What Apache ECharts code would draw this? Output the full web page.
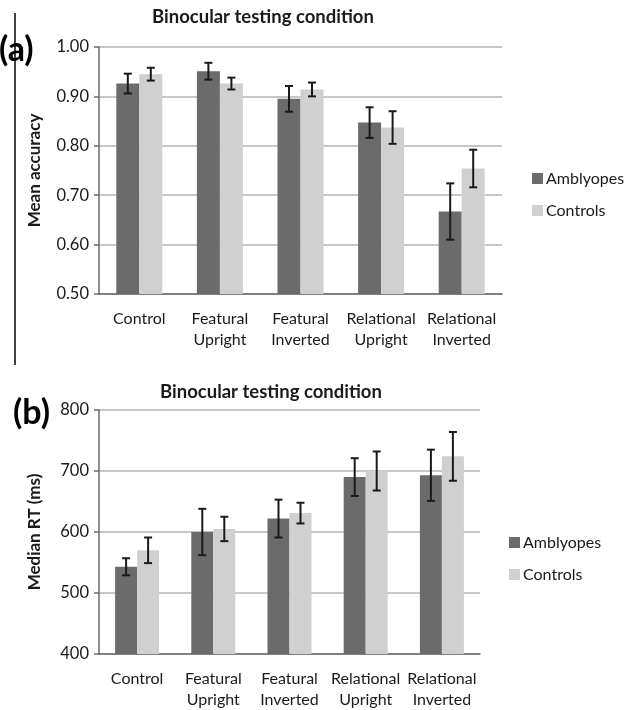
<!DOCTYPE html>
<html>
<head>
<meta charset="utf-8">
<script src="https://cdn.jsdelivr.net/npm/echarts@6/dist/echarts.min.js"></script>
<style>
  html, body { margin: 0; padding: 0; background: #fff; }
  #chart { width: 643px; height: 710px; }
</style>
</head>
<body>
<div id="chart"></div>
<script>
var categories = ['Control', 'Featural\nUpright', 'Featural\nInverted', 'Relational\nUpright', 'Relational\nInverted']

// panel (a) mean accuracy
var accAmb = [0.926, 0.951, 0.895, 0.847, 0.667]
var accAmbErr = [0.020, 0.017, 0.026, 0.031, 0.057]
var accCtl = [0.945, 0.926, 0.914, 0.837, 0.754]
var accCtlErr = [0.013, 0.012, 0.014, 0.033, 0.038]

// panel (b) median RT
var rtAmb = [543, 600, 622, 690, 693]
var rtAmbErr = [14, 38, 31, 31, 42]
var rtCtl = [570, 605, 631, 700, 724]
var rtCtlErr = [21, 20, 17, 32, 40]

var FONT = 'Lato, sans-serif'
var DARK = '#6b6b6b'
var LIGHT = '#d0d0d0'

function errData(vals, errs) {
  return vals.map(function(v, i) { return [i, v - errs[i], v + errs[i]] })
}

function errSeries(xi, yi, vals, errs, offset) {
  return {
    type: 'custom',
    xAxisIndex: xi,
    yAxisIndex: yi,
    silent: true,
    z: 10,
    data: errData(vals, errs),
    renderItem: function(params, api) {
      var lo = api.coord([api.value(0), api.value(1)])
      var hi = api.coord([api.value(0), api.value(2)])
      var x = lo[0] + offset
      var cap = 4
      var st = { stroke: '#1a1a1a', lineWidth: 2 }
      return {
        type: 'group',
        children: [
          { type: 'line', shape: { x1: x, y1: lo[1], x2: x, y2: hi[1] }, style: st },
          { type: 'line', shape: { x1: x - cap, y1: lo[1], x2: x + cap, y2: lo[1] }, style: st },
          { type: 'line', shape: { x1: x - cap, y1: hi[1], x2: x + cap, y2: hi[1] }, style: st }
        ]
      }
    }
  }
}

function xAxisCfg(gi) {
  return {
    type: 'category',
    gridIndex: gi,
    data: categories,
    axisLine: { lineStyle: { color: '#6a6a6a', width: 1.5 } },
    axisTick: { length: 5, lineStyle: { color: '#6a6a6a', width: 1.5 } },
    axisLabel: { color: '#1a1a1a', fontSize: 16, fontFamily: FONT, lineHeight: 21, margin: 14, interval: 0 }
  }
}

function yAxisCfg(gi, min, max, interval, name, fmt) {
  return {
    type: 'value',
    gridIndex: gi,
    min: min,
    max: max,
    interval: interval,
    name: name,
    nameLocation: 'middle',
    nameGap: 56,
    nameTextStyle: { color: '#1a1a1a', fontSize: 17, fontWeight: 'bold', fontFamily: FONT },
    axisLine: { show: true, lineStyle: { color: '#6a6a6a', width: 1.5 } },
    axisTick: { show: true, length: 5, lineStyle: { color: '#6a6a6a', width: 1.5 } },
    axisLabel: { color: '#1a1a1a', fontSize: 16.5, fontFamily: FONT, margin: 10, formatter: fmt },
    splitLine: { lineStyle: { color: '#b4b4b4', width: 1.5 } }
  }
}

function legendCfg(left, top) {
  return {
    orient: 'vertical', left: left, top: top, padding: 0, itemGap: 13, itemWidth: 11, itemHeight: 11,
    icon: 'rect', data: ['Amblyopes', 'Controls'], selectedMode: false,
    textStyle: { fontSize: 16, lineHeight: 19, color: '#1a1a1a', fontFamily: FONT, padding: [0, 0, 0, -2] }
  }
}

var chart = echarts.init(document.getElementById('chart'), null, { renderer: 'canvas' })

chart.setOption({
  animation: false,
  backgroundColor: '#fff',
  textStyle: { fontFamily: FONT },
  title: [
    { text: 'Binocular testing condition', left: 152, top: 8, padding: 0, textStyle: { fontSize: 18.5, fontWeight: 'bold', color: '#1a1a1a', fontFamily: FONT } },
    { text: 'Binocular testing condition', left: 160, top: 383, padding: 0, textStyle: { fontSize: 18.5, fontWeight: 'bold', color: '#1a1a1a', fontFamily: FONT } }
  ],
  legend: [legendCfg(532, 169), legendCfg(509, 533)],
  grid: [
    { left: 99, width: 403, top: 47, height: 247 },
    { left: 99, width: 381, top: 410, height: 247 }
  ],
  xAxis: [xAxisCfg(0), xAxisCfg(1)],
  yAxis: [
    yAxisCfg(0, 0.5, 1.0, 0.1, 'Mean accuracy', function(v) { return v.toFixed(2) }),
    yAxisCfg(1, 400, 800, 100, 'Median RT (ms)', function(v) { return v })
  ],
  graphic: [
    { type: 'line', shape: { x1: 15, y1: 13, x2: 15, y2: 365 }, style: { stroke: '#000', lineWidth: 1.5 } },
    { type: 'text', left: -1, top: 33, style: { text: '(a)', fontSize: 34, fontWeight: 'bold', fill: '#000', fontFamily: FONT } },
    { type: 'text', left: 13, top: 396, style: { text: '(b)', fontSize: 34, fontWeight: 'bold', fill: '#000', fontFamily: FONT } }
  ],
  series: [
    { name: 'Amblyopes', type: 'bar', xAxisIndex: 0, yAxisIndex: 0, barWidth: 23, barGap: '0%', itemStyle: { color: DARK }, data: accAmb },
    { name: 'Controls', type: 'bar', xAxisIndex: 0, yAxisIndex: 0, barWidth: 23, barGap: '0%', itemStyle: { color: LIGHT }, data: accCtl },
    errSeries(0, 0, accAmb, accAmbErr, -11.5),
    errSeries(0, 0, accCtl, accCtlErr, 11.5),
    { name: 'Amblyopes', type: 'bar', xAxisIndex: 1, yAxisIndex: 1, barWidth: 22, barGap: '0%', itemStyle: { color: DARK }, data: rtAmb },
    { name: 'Controls', type: 'bar', xAxisIndex: 1, yAxisIndex: 1, barWidth: 22, barGap: '0%', itemStyle: { color: LIGHT }, data: rtCtl },
    errSeries(1, 1, rtAmb, rtAmbErr, -11),
    errSeries(1, 1, rtCtl, rtCtlErr, 11)
  ]
})
</script>
</body>
</html>
